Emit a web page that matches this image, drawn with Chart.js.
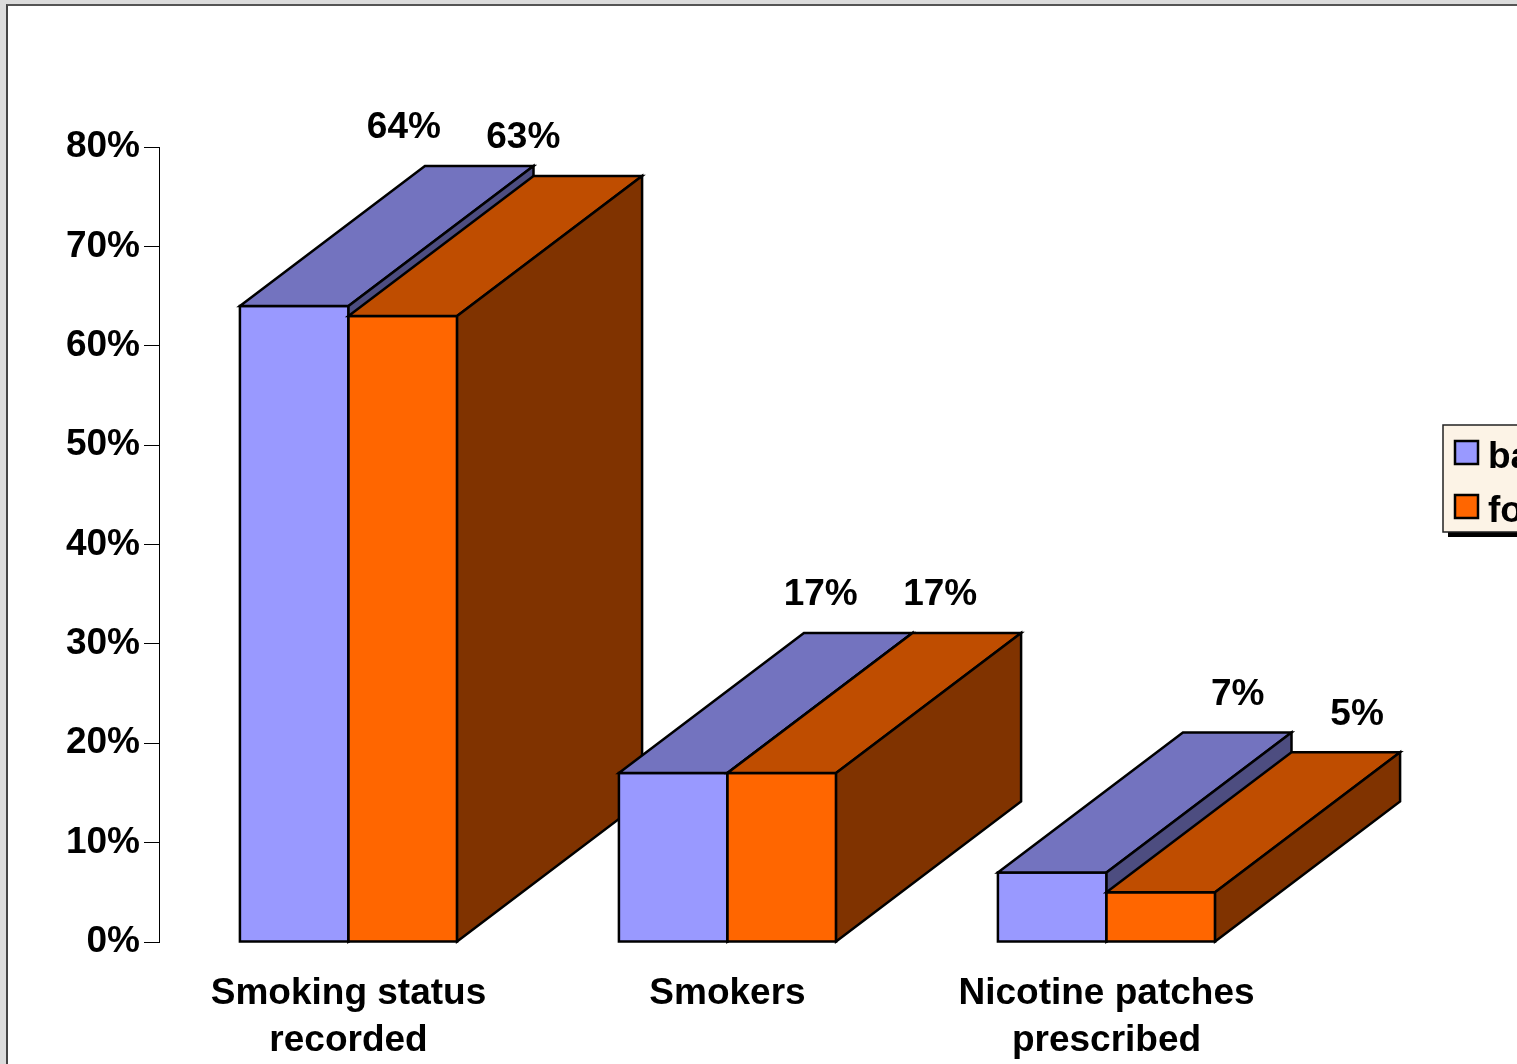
<!DOCTYPE html>
<html>
<head>
<meta charset="utf-8">
<script src="https://cdn.jsdelivr.net/npm/chart.js@4/dist/chart.umd.min.js"></script>
<style>
  html, body { margin: 0; padding: 0; background: #dcdcdc; overflow: hidden; }
  #frame { position: absolute; left: 6px; top: 4px; width: 1509px; height: 1058px;
           border-left: 2px solid #444; border-top: 2px solid #555; background: #fff; }
  canvas { display: block; }
</style>
</head>
<body>
<div id="frame"><canvas id="chart" width="1509" height="1058"></canvas></div>
<script>
// data
const categories = [['Smoking status', 'recorded'], 'Smokers', ['Nicotine patches', 'prescribed']];
const seriesNames = ['baseline', 'follow-up'];
const baselineValues = [64, 17, 7];
const followUpValues = [63, 17, 5];
const yTickStep = 10;
const yMax = 80;

// colours: front face, top face (darker), side face (darkest)
const shades = [
    { front: '#9999ff', top: '#7373bf', side: '#4d4d80' },
    { front: '#ff6600', top: '#bf4d00', side: '#803300' }
];
const DX = 185, DY = 140;   // depth of the boxes
const FAMILY = '"Liberation Sans", Arial, sans-serif';
const FONT = 'bold 37px ' + FAMILY;

function poly(ctx, pts, fill) {
    ctx.beginPath();
    ctx.moveTo(pts[0][0], pts[0][1]);
    for (let i = 1; i < pts.length; i++) ctx.lineTo(pts[i][0], pts[i][1]);
    ctx.closePath();
    ctx.fillStyle = fill;
    ctx.fill();
    ctx.lineWidth = 2.5;
    ctx.lineJoin = 'miter';
    ctx.strokeStyle = '#000';
    ctx.stroke();
}

// draws each bar as a box, category by category so nearer boxes cover farther ones
const boxes3d = {
    id: 'boxes3d',
    beforeDatasetsDraw(chart) {
        const ctx = chart.ctx;
        ctx.save();
        for (let i = 0; i < chart.data.labels.length; i++) {
            chart.data.datasets.forEach((ds, d) => {
                const bar = chart.getDatasetMeta(d).data[i];
                const l = bar.x - bar.width / 2, r = bar.x + bar.width / 2;
                const t = bar.y, b = bar.base;
                const c = shades[d];
                poly(ctx, [[l, b], [l, t], [r, t], [r, b]], c.front);
                poly(ctx, [[l, t], [l + DX, t - DY], [r + DX, t - DY], [r, t]], c.top);
                poly(ctx, [[r, t], [r + DX, t - DY], [r + DX, b - DY], [r, b]], c.side);
            });
        }
        ctx.restore();
        return false;
    },
    afterDraw(chart) {
        const ctx = chart.ctx;
        ctx.save();
        ctx.font = FONT;
        ctx.fillStyle = '#000';
        ctx.textAlign = 'center';
        ctx.textBaseline = 'middle';
        // value labels above the back edge of each box
        chart.data.datasets.forEach((ds, d) => {
            chart.getDatasetMeta(d).data.forEach((bar, i) => {
                const x = bar.x + 153 + 0.1 * (bar.x - 720);
                ctx.fillText(ds.data[i] + '%', x, bar.y - DY - 38);
            });
        });
        // legend box (runs off the right edge like the original)
        const lx = 1435, ly = 419, lw = 300, lh = 107;
        ctx.fillStyle = '#000';
        ctx.fillRect(lx + 5, ly + 5, lw, lh);
        ctx.fillStyle = '#fcf3e6';
        ctx.fillRect(lx, ly, lw, lh);
        ctx.lineWidth = 1.5;
        ctx.strokeStyle = '#222';
        ctx.strokeRect(lx, ly, lw, lh);
        ctx.textAlign = 'left';
        ctx.textBaseline = 'alphabetic';
        chart.data.datasets.forEach((ds, d) => {
            const sy = ly + 16 + d * 54;
            ctx.fillStyle = shades[d].front;
            ctx.fillRect(lx + 12, sy, 23, 23);
            ctx.lineWidth = 2.5;
            ctx.strokeStyle = '#000';
            ctx.strokeRect(lx + 12, sy, 23, 23);
            ctx.fillStyle = '#000';
            ctx.fillText(ds.label, lx + 45, sy + 27);
        });
        ctx.restore();
    }
};

const ctx = document.getElementById('chart').getContext('2d');
const chart = new Chart(ctx, {
    type: 'bar',
    data: {
        labels: categories,
        datasets: [
            { label: seriesNames[0], data: baselineValues, backgroundColor: shades[0].front },
            { label: seriesNames[1], data: followUpValues, backgroundColor: shades[1].front }
        ]
    },
    options: {
        responsive: false,
        animation: false,
        layout: { padding: { left: 0, top: 141, right: 221, bottom: 0 } },
        datasets: { bar: { categoryPercentage: 0.573, barPercentage: 1 } },
        plugins: { legend: { display: false }, tooltip: { enabled: false } },
        scales: {
            x: {
                grid: { display: false, drawTicks: false },
                border: { display: false },
                ticks: {
                    color: '#000', padding: 28, maxRotation: 0, autoSkip: false,
                    font: { family: FAMILY, size: 37, weight: 'bold', lineHeight: 1.27 }
                },
                afterFit: s => { s.height = 122; }
            },
            y: {
                min: 0,
                max: yMax,
                ticks: {
                    stepSize: yTickStep, color: '#000', padding: 4,
                    callback: v => v + '%',
                    font: { family: FAMILY, size: 37, weight: 'bold' }
                },
                grid: { drawOnChartArea: false, tickLength: 15, color: '#000', lineWidth: 1 },
                border: { color: '#000', width: 1 },
                afterFit: s => { s.width = 151; }
            }
        }
    },
    plugins: [boxes3d]
});
</script>
</body>
</html>
